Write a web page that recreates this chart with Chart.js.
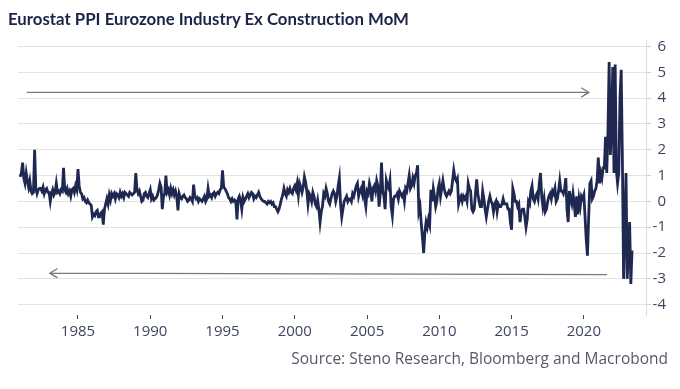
<!DOCTYPE html>
<html>
<head>
<meta charset="utf-8">
<script src="https://cdn.jsdelivr.net/npm/chart.js@4.4.0/dist/chart.umd.min.js"></script>
<style>
  body { margin: 0; background: #fff; }
  #wrap { position: relative; width: 680px; height: 389px; font-family: 'Open Sans', sans-serif; }
  #title { position: absolute; left: 8px; top: 8px; font-family: Lato, 'Open Sans', sans-serif; font-size: 16.8px; font-weight: 700; color: #1d2346; white-space: nowrap; font-variant-ligatures: none; }
  #source { position: absolute; right: 12px; top: 347px; font-size: 15.5px; color: #555a66; white-space: nowrap; }
</style>
</head>
<body>
<div id="wrap">
  <canvas id="ppiChart" width="680" height="389"></canvas>
  <div id="title">Eurostat PPI Eurozone Industry Ex Construction MoM</div>
  <div id="source">Source: Steno Research, Bloomberg and Macrobond</div>
</div>
<script>
// monthly % change, first value = Jan 1981
var startYear = 1981;
var ppiMoM = [
  0.95, 1.1, 1.5, 0.9, 0.7, 1.1, 0.8, 0.55, 0.8, 0.4, 0.3, 0.35,      // 1981
  2.0, 0.5, 0.3, 0.45, 0.5, 0.5, 0.4, 0.55, 0.3, 0.45, 0.5, 0.35,     // 1982
  0.35, 0.0, 0.3, 0.45, 0.25, 0.35, 0.7, 0.35, 0.4, 0.3, 0.45, 0.4,   // 1983
  1.3, 0.45, 0.35, 0.5, 0.3, 0.4, 0.2, 0.45, 0.5, 0.35, 0.6, 0.45,    // 1984
  1.25, 0.6, 0.35, 0.3, 0.1, 0.15, 0.0, -0.05, 0.05, -0.05, -0.1, -0.15, // 1985
  -0.6, -0.5, -0.55, -0.4, -0.35, -0.6, -0.6, -0.45, -0.4, -0.9, -0.3, -0.1, // 1986
  0.1, -0.1, 0.25, 0.05, 0.3, 0.2, 0.3, 0.1, 0.3, 0.25, 0.15, 0.35,   // 1987
  0.2, 0.3, 0.15, 0.35, 0.3, 0.25, 0.2, 0.35, 0.3, 0.25, 0.3, 0.35,   // 1988
  1.1, 0.45, 0.3, 0.4, 0.2, 0.0, 0.05, 0.3, 0.35, 0.2, 0.15, 0.3,     // 1989
  0.45, 0.1, 0.2, 0.05, 0.1, 0.15, 0.25, 0.45, 0.7, 0.55, -0.3, 0.2,  // 1990
  0.3, 1.0, 0.35, 0.45, 0.25, 0.5, 0.3, 0.45, 0.25, 0.4, 0.2, -0.35,  // 1991
  0.3, 0.15, 0.1, 0.2, 0.25, 0.15, 0.1, 0.0, 0.05, 0.15, 0.1, 0.0,    // 1992
  0.65, 0.2, 0.1, 0.15, 0.0, 0.1, 0.05, 0.0, 0.1, 0.2, 0.0, 0.1,      // 1993
  0.5, 0.2, 0.25, 0.15, 0.3, 0.35, 0.2, 0.3, 0.35, 0.3, 0.45, 0.5,    // 1994
  1.2, 0.55, 0.5, 0.4, 0.3, 0.15, 0.1, 0.0, 0.1, 0.0, 0.05, 0.0,      // 1995
  -0.7, 0.1, 0.2, 0.05, -0.3, 0.15, 0.0, 0.1, 0.2, 0.3, 0.15, 0.25,   // 1996
  0.35, 0.3, 0.1, 0.2, 0.15, 0.25, 0.35, 0.2, 0.1, 0.05, 0.0, 0.0,    // 1997
  -0.05, -0.1, 0.0, -0.05, 0.0, -0.1, -0.05, -0.2, -0.2, -0.3, -0.4, -0.3, // 1998
  -0.1, 0.1, 0.25, 0.5, 0.3, 0.2, 0.45, 0.35, 0.5, 0.35, 0.3, 0.5,    // 1999
  0.6, 0.45, 0.7, 0.25, 0.7, 0.55, 0.35, 0.55, 0.95, 0.75, 0.4, -0.1, // 2000
  0.3, 0.2, 0.0, 0.35, 0.2, -0.1, -0.2, 0.05, -0.3, -0.8, -0.4, -0.2, // 2001
  0.3, 0.2, 0.5, 0.3, 0.0, -0.1, 0.1, 0.3, 0.4, 0.3, 0.0, 0.2,        // 2002
  0.6, 0.9, -0.1, -0.6, -0.3, 0.0, 0.1, 0.2, 0.0, 0.1, 0.1, 0.0,      // 2003
  0.3, 0.2, 0.4, 0.6, 0.7, 0.2, 0.4, 0.5, 0.3, 0.8, 0.1, -0.2,        // 2004
  0.4, 0.3, 0.7, 0.5, 0.0, 0.5, 0.6, 0.4, 0.8, 0.6, -0.2, 0.3,        // 2005
  1.5, 0.4, 0.2, -0.3, 0.8, 0.6, 0.5, 0.8, -0.2, -0.55, 0.1, 0.2,     // 2006
  0.2, 0.3, 0.1, 0.4, 0.3, 0.2, 0.3, 0.0, 0.5, 0.4, 0.7, 1.0,         // 2007
  0.5, 0.6, 0.9, 0.7, 1.0, 1.1, 1.4, -0.4, -0.2, -0.85, -1.4, -2.0,   // 2008
  -1.2, -0.8, -1.0, -0.7, -0.9, 0.45, 0.0, 0.5, 0.2, -0.2, 0.0, 0.5,  // 2009
  0.7, 0.2, 0.5, 0.8, 0.5, 0.3, 0.2, 0.3, 0.4, 0.3, 0.4, 0.8,         // 2010
  1.2, 0.9, 0.8, 0.9, -0.1, 0.1, 0.2, 0.0, 0.2, 0.1, 0.2, 0.0,        // 2011
  0.7, 0.5, 0.4, -0.3, -0.4, -0.3, 0.3, 0.85, 0.3, 0.0, -0.2, -0.2,   // 2012
  0.4, 0.1, -0.3, -0.6, -0.3, 0.0, 0.2, 0.0, -0.1, -0.4, -0.1, 0.0,   // 2013
  -0.4, -0.1, -0.2, -0.2, -0.1, 0.1, -0.1, -0.1, -0.1, -0.3, -0.3, -0.8, // 2014
  -1.1, 0.5, 0.3, 0.0, 0.0, -0.2, -0.1, -0.8, -0.4, -0.3, -0.3, -0.6, // 2015
  -1.0, -0.7, 0.0, -0.1, 0.4, 0.6, 0.1, 0.0, 0.2, 0.3, 0.1, 0.7,      // 2016
  1.1, 0.2, -0.2, 0.1, -0.4, -0.3, 0.0, 0.2, 0.3, 0.1, 0.4, 0.3,      // 2017
  0.5, 0.0, 0.1, 0.4, 0.8, 0.4, 0.4, 0.3, 0.5, 0.9, -0.3, -0.8,       // 2018
  0.4, 0.1, -0.1, 0.3, -0.1, -0.6, 0.2, -0.5, 0.1, -0.2, 0.2, 0.1,    // 2019
  0.25, -0.6, -1.5, -2.1, -0.6, 0.7, 0.8, 0.1, 0.2, 0.4, 0.5, 0.8,    // 2020
  1.7, 0.7, 1.1, 0.9, 1.3, 1.3, 2.5, 1.1, 2.7, 5.4, 1.8, 2.9,         // 2021
  5.2, 1.1, 5.3, 1.2, 0.7, 1.1, 4.0, 5.1, 1.6, -3.0, -1.0, 1.1,       // 2022
  -3.0, -2.0, -0.8, -3.2, -1.9                                        // 2023
];
var xTickYears = [1985, 1990, 1995, 2000, 2005, 2010, 2015, 2020];
var yTickValues = [6, 5, 4, 3, 2, 1, 0, -1, -2, -3, -4];

// hand drawn arrows, in chart units
var arrows = [
  { from: [1981.45, 4.22], to: [2020.35, 4.22] },
  { from: [2021.6, -2.84], to: [1983.05, -2.78] }
];

var points = ppiMoM.map(function (v, i) {
  return { x: startYear + i / 12, y: v };
});

var arrowPlugin = {
  id: 'arrows',
  afterDatasetsDraw: function (chart) {
    var ctx = chart.ctx, xs = chart.scales.x, ys = chart.scales.y;
    ctx.save();
    ctx.strokeStyle = '#7a7a7a';
    ctx.lineWidth = 1.3;
    arrows.forEach(function (a) {
      var x1 = xs.getPixelForValue(a.from[0]), y1 = ys.getPixelForValue(a.from[1]);
      var x2 = xs.getPixelForValue(a.to[0]), y2 = ys.getPixelForValue(a.to[1]);
      var ang = Math.atan2(y2 - y1, x2 - x1);
      ctx.beginPath();
      ctx.moveTo(x1, y1);
      ctx.lineTo(x2, y2);
      ctx.moveTo(x2 - 9 * Math.cos(ang - 0.55), y2 - 9 * Math.sin(ang - 0.55));
      ctx.lineTo(x2, y2);
      ctx.lineTo(x2 - 9 * Math.cos(ang + 0.55), y2 - 9 * Math.sin(ang + 0.55));
      ctx.stroke();
    });
    ctx.restore();
  }
};

Chart.defaults.font.family = "'Open Sans', sans-serif";

var ctx = document.getElementById('ppiChart');
var ppiChart = new Chart(ctx, {
  type: 'line',
  data: {
    datasets: [{
      data: points,
      borderColor: '#1f2851',
      borderWidth: 2.8,
      pointRadius: 0,
      tension: 0
    }]
  },
  options: {
    responsive: false,
    animation: false,
    devicePixelRatio: 1,
    layout: { padding: { top: 40, left: 18, right: 14, bottom: 34 } },
    plugins: {
      legend: { display: false },
      tooltip: { enabled: false }
    },
    scales: {
      x: {
        type: 'linear',
        min: 1980.85,
        max: 2024.3,
        afterBuildTicks: function (scale) {
          scale.ticks = xTickYears.map(function (v) { return { value: v }; });
        },
        afterFit: function (scale) { scale.height = 40; },
        ticks: {
          color: '#3d4460',
          font: { size: 15 },
          padding: 4,
          maxRotation: 0,
          callback: function (v) { return String(v); }
        },
        grid: { drawOnChartArea: false, tickLength: 4, tickColor: '#3d4460' },
        border: { display: false }
      },
      y: {
        position: 'right',
        min: -4.4,
        max: 6.25,
        afterBuildTicks: function (scale) {
          scale.ticks = yTickValues.map(function (v) { return { value: v }; });
        },
        afterFit: function (scale) { scale.width = 20; },
        ticks: {
          color: '#3d4460',
          font: { size: 15 },
          crossAlign: 'far',
          padding: 2,
          callback: function (v) { return String(v); }
        },
        grid: { color: '#e3e3e3', tickLength: 5, tickColor: '#d0d0d0' },
        border: { color: '#dcdcdc' }
      }
    }
  },
  plugins: [arrowPlugin]
});
</script>
</body>
</html>
